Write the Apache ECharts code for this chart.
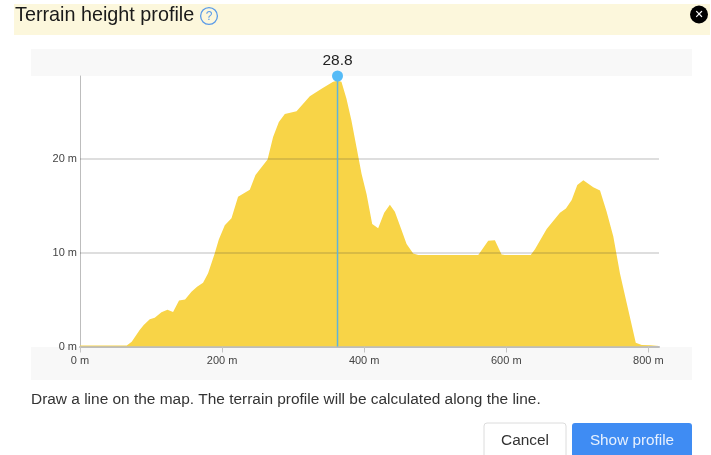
<!DOCTYPE html>
<html>
<head>
<meta charset="utf-8">
<style>html,body{margin:0;padding:0;background:#fff}#c{width:711px;height:455px}</style>
<script src="https://cdn.jsdelivr.net/npm/echarts@6/dist/echarts.min.js"></script>
</head>
<body>
<div id="c"></div>
<script>
var distances = [0,65.8,72.8,84,89.7,98.2,105.2,114.6,123.1,131,139.4,147.9,156.9,164.8,173.2,180.3,185,189.7,195.4,203.8,213.2,222.5,239,247,264,271.8,279.9,288.3,304.8,323.5,340,356.3,362.5,368,375,382,389.3,396.3,403.4,411.3,419.7,428.2,436.2,443.2,451.7,459.7,469,476,560.6,574.6,584,593.4,598,634.4,640.4,656.9,675.6,684,692.1,700,708.5,722.5,732,741.3,750.7,760,769.6,782.3,790.7,815];
var heights = [0.1,0.1,0.5,1.77,2.3,2.9,3.07,3.65,3.9,3.67,4.9,5.0,5.84,6.37,6.8,7.8,8.87,9.93,11.4,12.9,13.65,15.95,16.7,18.25,19.9,22.3,23.9,24.75,25.05,26.65,27.45,28.2,28.3,28.2,26.4,24.1,21.2,18.4,16.2,13.05,12.6,14.25,15.1,14.35,12.6,10.9,9.9,9.75,9.75,11.25,11.3,9.8,9.75,9.75,10.35,12.5,14.25,14.7,15.6,17.2,17.7,16.95,16.6,14.35,11.7,7.8,4.6,0.4,0.15,0.1];
var xTicks = [0,200,400,600,800];
var yTicks = [0,10,20];
var hoverDistance = 362.5;
var hoverHeight = 28.8;
var titleText = 'Terrain height profile';
var noteText = 'Draw a line on the map. The terrain profile will be calculated along the line.';
var cancelText = 'Cancel';
var showText = 'Show profile';

var FONT = '"Liberation Sans", Arial, sans-serif';
var chart = echarts.init(document.getElementById('c'));
chart.setOption({
  animation: false,
  backgroundColor: '#fff',
  textStyle: {fontFamily: FONT},
  grid: {left: 80, right: 52, top: 76, bottom: 108.5},
  xAxis: {
    type: 'value', min: 0, max: 815, interval: 200,
    splitLine: {show: false},
    axisLine: {onZero: false, lineStyle: {color: '#bdbdbd', width: 2}},
    axisTick: {show: true, length: 6, customValues: xTicks, lineStyle: {color: '#c4c4c4'}},
    axisLabel: {customValues: xTicks, color: '#444', fontSize: 11, margin: 9, hideOverlap: false,
      formatter: function (v) { return v + ' m'; }}
  },
  yAxis: {
    type: 'value', min: 0, max: 28.8, interval: 10,
    splitLine: {show: false},
    axisLine: {show: true, onZero: false, lineStyle: {color: '#bdbdbd', width: 1}},
    axisTick: {show: false},
    axisLabel: {customValues: yTicks, color: '#444', fontSize: 11, margin: 3, padding: [2, 0, 0, 0],
      formatter: function (v) { return v + ' m'; }}
  },
  series: [
    {
      type: 'line', z: 2, showSymbol: false, symbol: 'none', smooth: false,
      data: distances.map(function (d, i) { return [d, heights[i]]; }),
      lineStyle: {width: 0},
      areaStyle: {color: '#f8d447', opacity: 1},
      markLine: {
        silent: true, symbol: 'none', label: {show: false},
        lineStyle: {color: 'rgba(60,60,60,0.22)', type: 'solid', width: 1.5},
        data: [{yAxis: yTicks[1]}, {yAxis: yTicks[2]}]
      }
    },
    {
      type: 'line', z: 5, symbol: 'none',
      data: [[hoverDistance, 0], [hoverDistance, hoverHeight]],
      lineStyle: {color: '#5fb4dc', width: 1.5}
    },
    {
      type: 'scatter', z: 6, symbol: 'circle', symbolSize: 11,
      data: [[hoverDistance, hoverHeight]],
      itemStyle: {color: '#55bbf7', opacity: 1},
      label: {show: true, position: 'top', distance: 2, color: '#222', fontSize: 15.5, fontFamily: FONT,
        formatter: function (p) { return p.value[1]; }}
    }
  ],
  graphic: [
    {type: 'rect', z: -10, silent: true, shape: {x: 14, y: 4, width: 696, height: 31}, style: {fill: '#fcf7dc'}},
    {type: 'rect', z: -10, silent: true, shape: {x: 31, y: 49, width: 661, height: 27}, style: {fill: '#f8f8f8'}},
    {type: 'rect', z: -10, silent: true, shape: {x: 31, y: 347, width: 661, height: 33}, style: {fill: '#f8f8f8'}},
    {type: 'text', silent: true, x: 15, y: 15.5, style: {text: titleText, font: '19.8px ' + FONT, fill: '#1a1a1a', verticalAlign: 'middle'}},
    {type: 'circle', silent: true, shape: {cx: 209, cy: 16, r: 8.4}, style: {fill: 'none', stroke: '#5a9be8', lineWidth: 1.3}},
    {type: 'text', silent: true, x: 209, y: 16.5, style: {text: '?', font: '12px ' + FONT, fill: '#5a9be8', align: 'center', verticalAlign: 'middle'}},
    {type: 'circle', silent: true, shape: {cx: 699, cy: 14.5, r: 9}, style: {fill: '#000'}},
    {type: 'text', silent: true, x: 699, y: 15, style: {text: '\u2715', font: 'bold 11px "DejaVu Sans"', fill: '#fff', align: 'center', verticalAlign: 'middle'}},
    {type: 'text', silent: true, x: 31, y: 399.5, style: {text: noteText, font: '15.45px ' + FONT, fill: '#333', verticalAlign: 'middle'}},
    {type: 'rect', silent: true, shape: {x: 484, y: 423, width: 82, height: 40, r: 3}, style: {fill: '#fff', stroke: '#dcdcdc', lineWidth: 1}},
    {type: 'text', silent: true, x: 525, y: 441, style: {text: cancelText, font: '15.4px ' + FONT, fill: '#333', align: 'center', verticalAlign: 'middle'}},
    {type: 'rect', silent: true, shape: {x: 572, y: 423, width: 120, height: 40, r: 3}, style: {fill: '#3f8cf3'}},
    {type: 'text', silent: true, x: 632, y: 441, style: {text: showText, font: '15.3px ' + FONT, fill: '#e8f1fe', align: 'center', verticalAlign: 'middle'}}
  ]
});
</script>
</body>
</html>
